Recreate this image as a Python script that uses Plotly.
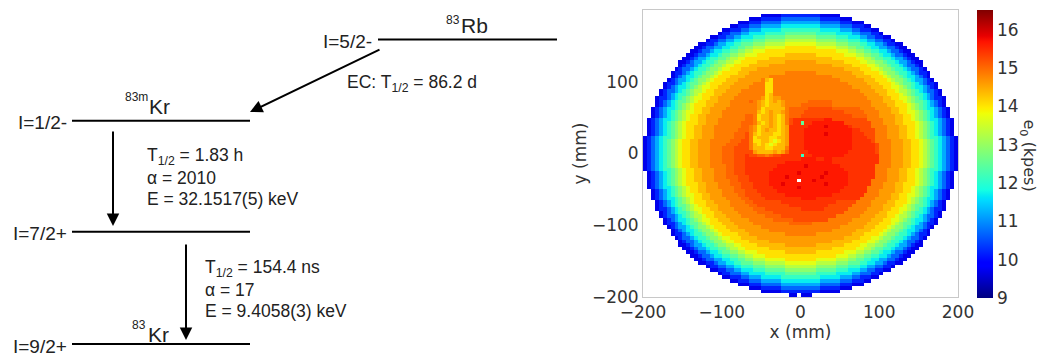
import numpy as np
import plotly.graph_objects as go

W, H = 1037, 360

# ---------------------------------------------------------------------------
# e0 map of the detector in 5 mm bins (80 x 80). Each row is run-length
# encoded as "<count><code>" tokens, read from left (x = -197.5 mm) to right
# (x = +197.5 mm). Rows run from y = +197.5 mm (top) to y = -197.5 mm.
# "." marks empty bins (outside the active area, or no data).
# ---------------------------------------------------------------------------
RIM_ROWS_TOP = [
    "80.",
    "30. 5a 5b 5b 5a 30.",
    "27. 3a 5b 5c 5c 5b 3a 27.",
    "24. 3a 3b 5c 5d 5d 5c 3b 3a 24.",
    "22. 2a 3b 3c 5d 5e 5e 5d 3c 3b 2a 22.",
    "20. 2a 3b 2c 3d 5e 5f 5f 5e 3d 2c 3b 2a 20.",
    "19. 1a 2b 3c 2d 4e 5f 4g 4g 5f 4e 2d 3c 2b 1a 19.",
    "17. 2a 2b 2c 2d 3e 3f 5g 4h 4h 5g 3f 3e 2d 2c 2b 2a 17.",
    "16. 1a 2b 2c 2d 2e 3f 3g 5h 4i 4i 5h 3g 3f 2e 2d 2c 2b 1a 16.",
    "14. 2a 2b 1c 2d 2e 2f 3g 3h 5i 4j 4j 5i 3h 3g 2f 2e 2d 1c 2b 2a 14.",
    "13. 2a 1b 2c 2d 2e 2f 2g 2h 3i 5j 4k 4k 5j 3i 2h 2g 2f 2e 2d 2c 1b 2a 13.",
    "12. 2a 1b 2c 1d 2e 2f 2g 2h 2i 3j 9k 9k 3j 2i 2h 2g 2f 2e 1d 2c 1b 2a 12.",
    "11. 2a 1b 2c 1d 2e 1f 2g 2h 2i 3j 7k 4l 4l 7k 3j 2i 2h 2g 1f 2e 1d 2c 1b 2a 11.",
    "10. 2a 1b 1c 2d 1e 2f 2g 1h 2i 2j 6k 8l 8l 6k 2j 2i 1h 2g 2f 1e 2d 1c 1b 2a 10.",
    "9. 2a 1b 1c 2d 1e 2f 1g 2h 2i 2j 4k 7l 4m 4m 7l 4k 2j 2i 2h 1g 2f 1e 2d 1c 1b 2a 9.",
    "9. 1a 1b 2c 1d 1e 2f 1g 2h 1i 2j 4k 5l 8m 8m 5l 4k 2j 1i 2h 1g 2f 1e 1d 2c 1b 1a 9.",
    "8. 1a 1b 2c 1d 1e 2f 1g 2h 1i 2j 3k 4l 11m 11m 4l 3k 2j 1i 2h 1g 2f 1e 1d 2c 1b 1a 8.",
    "7. 1a 2b 1c 1d 1e 2f 1g 2h 1i 1j 4k 3l 9m 4n 4n 9m 3l 4k 1j 1i 2h 1g 2f 1e 1d 1c 2b 1a 7.",
    "7. 1a 1b 1c 1d 2e 1f 1g 2h 1i 1j 3k 4l 6m 8n 8n 6m 4l 3k 1j 1i 2h 1g 1f 2e 1d 1c 1b 1a 7.",
    "6. 1a 1b 1c 2d 1e 1f 1g 2h 1i 1j 3k 3l 6m 1n 1l 1k 7n 10n 6m 3l 3k 1j 1i 2h 1g 1f 1e 2d 1c 1b 1a 6.",
]

CORE_ROWS_TOP = [
    "5. 1a 2b 1c 1d 1e 1f 2g 1h 1i 1j 3k 3l 5m 3n 2k 4n 6n 9n 5m 3l 3k 1j 1i 1h 2g 1f 1e 1d 1c 2b 1a 5.",
    "5. 1a 1b 1c 1d 2e 1f 1g 1h 1i 2j 2k 3l 5m 4n 2k 14n 6n 5m 3l 2k 2j 1i 1h 1g 1f 2e 1d 1c 1b 1a 5.",
    "4. 1a 1b 2c 1d 1e 1f 1g 1h 2i 1j 2k 3l 4m 6n 2k 16n 6n 4m 3l 2k 1j 2i 1h 1g 1f 1e 1d 2c 1b 1a 4.",
    "4. 1a 1b 1c 1d 1e 2f 1g 1h 1i 1j 3k 2l 4m 5n 2n 1k 1l 18n 5n 4m 2l 3k 1j 1i 1h 1g 2f 1e 1d 1c 1b 1a 4.",
    "3. 1a 2b 1c 1d 1e 1f 1g 1h 1i 2j 2k 2l 4m 5n 2n 1m 1k 1l 2m 1n 16n 5n 4m 2l 2k 2j 1i 1h 1g 1f 1e 1d 1c 2b 1a 3.",
    "3. 1a 1b 1c 1d 1e 1f 2g 1h 1i 1j 2k 3l 3m 5n 1o 1n 1m 1l 1k 1l 1m 1l 1m 1n 5n 6o 5n 5n 3m 3l 2k 1j 1i 1h 2g 1f 1e 1d 1c 1b 1a 3.",
    "3. 1a 1b 1c 1d 1e 1f 1g 1h 1i 1j 3k 2l 4m 4n 2n 1n 1m 1l 1k 1l 1l 1l 1m 1n 3n 8o 6n 4n 4m 2l 3k 1j 1i 1h 1g 1f 1e 1d 1c 1b 1a 3.",
    "2. 1a 1b 1c 1d 2e 1f 1g 1h 1i 1j 2k 2l 4m 4n 3n 1n 1m 1k 1l 1l 1l 1l 1l 1n 5o 6p 7o 4n 4m 2l 2k 1j 1i 1h 1g 1f 2e 1d 1c 1b 1a 2.",
    "2. 1a 1b 1c 1d 1e 1f 1g 1h 1i 2j 2k 2l 3m 4n 4n 1n 1l 1k 1l 1m 1l 1l 1m 1n 4o 10p 5o 4n 3m 2l 2k 2j 1i 1h 1g 1f 1e 1d 1c 1b 1a 2.",
    "2. 1a 1b 1c 1d 1e 1f 1g 1h 1i 1j 2k 2l 4m 3n 3n 2o 1n 1k 1l 1l 1m 1l 1k 1l 1n 3o 13p 4o 3n 4m 2l 2k 1j 1i 1h 1g 1f 1e 1d 1c 1b 1a 2.",
    "1. 1a 1b 1c 1d 2e 1f 1g 1h 1i 1j 2k 2l 3m 4n 3n 2o 1n 1k 1l 1l 1m 1l 1k 1l 1n 1p 8q 2r 9p 4n 3m 2l 2k 1j 1i 1h 1g 1f 2e 1d 1c 1b 1a 1.",
    "1. 1a 1b 1c 1d 1e 1f 1g 1h 1i 1j 3k 2l 3m 3n 3n 3o 1n 1l 1k 1l 1m 1l 1k 1l 1n 1p 2q 1g 2q 8r 7p 3n 3m 2l 3k 1j 1i 1h 1g 1f 1e 1d 1c 1b 1a 1.",
    "1. 1a 1b 1c 1d 1e 1f 1g 1h 1i 1j 2k 2l 3m 4n 3n 2o 1n 1m 1k 1l 1l 1m 1l 1k 1l 1m 5q 4r 1s 5r 1q 5p 4n 3m 2l 2k 1j 1i 1h 1g 1f 1e 1d 1c 1b 1a 1.",
    "1. 1a 1b 1c 1d 1e 1f 1g 1h 1i 1j 2k 2l 3m 3n 3n 3o 1n 1m 1k 1l 1m 1l 1l 1k 1l 1m 4q 12r 2q 4p 3n 3m 2l 2k 1j 1i 1h 1g 1f 1e 1d 1c 1b 1a 1.",
    "1. 1a 1b 1c 1d 1e 1f 1g 1h 1i 1j 2k 2l 3m 3n 2n 3o 1p 1n 1l 1k 1l 1l 1l 1k 1k 1l 1m 4q 5r 1s 6r 3q 3p 3n 3m 2l 2k 1j 1i 1h 1g 1f 1e 1d 1c 1b 1a 1.",
    "1a 1b 1c 1d 1e 2f 1g 1h 1i 1j 2k 2l 3m 3n 2n 3o 1p 1n 1k 1l 1l 1l 1k 1k 1l 1l 1m 4q 12r 4q 2p 3n 3m 2l 2k 1j 1i 1h 1g 2f 1e 1d 1c 1b 1a",
    "1a 1b 1c 1d 1e 1f 1g 1h 1i 1j 2k 2l 3m 4n 1n 3o 2p 1n 1k 1k 1l 1l 1k 1j 1k 1l 1m 4q 12r 5q 1p 4n 3m 2l 2k 1j 1i 1h 1g 1f 1e 1d 1c 1b 1a",
    "1a 1b 1c 1d 1e 1f 1g 1h 1i 1j 2k 2l 3m 3n 1n 3o 3p 1n 1l 1k 1l 1k 1j 1k 1l 1l 1m 4q 12r 6q 1p 3n 3m 2l 2k 1j 1i 1h 1g 1f 1e 1d 1c 1b 1a",
    "1a 1b 1c 1d 1e 1f 1g 1h 1i 1j 2k 2l 3m 3n 3o 4p 1n 1l 1l 1l 1k 1k 1l 1l 1l 1n 4q 12r 6q 1p 3n 3m 2l 2k 1j 1i 1h 1g 1f 1e 1d 1c 1b 1a",
    "1a 1b 1c 1d 1e 1f 1g 1h 1i 1j 2k 2l 3m 3n 3o 5p 1m 1l 1l 1l 1l 1m 1l 1m 1o 5q 10r 7q 1p 3n 3m 2l 2k 1j 1i 1h 1g 1f 1e 1d 1c 1b 1a",
]

CORE_ROWS_BOTTOM = [
    "1a 1b 1c 1d 1e 1f 1g 1h 1i 1j 2k 2l 3m 3n 3o 3p 1q 2p 2o 1n 1o 2p 5q 1f 2q 8r 9q 3n 3m 2l 2k 1j 1i 1h 1g 1f 1e 1d 1c 1b 1a",
    "1a 1b 1c 1d 1e 1f 1g 1h 1i 1j 2k 2l 3m 3n 3o 3p 14q 4r 2q 2r 12q 3n 3m 2l 2k 1j 1i 1h 1g 1f 1e 1d 1c 1b 1a",
    "1a 1b 1c 1d 1e 1f 1g 1h 1i 1j 2k 2l 3m 3n 3o 3p 10q 12r 12q 3n 3m 2l 2k 1j 1i 1h 1g 1f 1e 1d 1c 1b 1a",
    "1a 1b 1c 1d 1e 1f 1g 1h 1i 1j 2k 2l 3m 4n 2o 3p 8q 7r 1s 8r 9q 4n 3m 2l 2k 1j 1i 1h 1g 1f 1e 1d 1c 1b 1a",
    "1a 1b 1c 1d 1e 2f 1g 1h 1i 1j 2k 2l 3m 3n 2o 3p 7q 18r 8q 3n 3m 2l 2k 1j 1i 1h 1g 2f 1e 1d 1c 1b 1a",
    "1. 1a 1b 1c 1d 1e 1f 1g 1h 1i 1j 2k 2l 3m 3n 2o 3p 6q 7r 1s 6r 1s 5r 7q 3n 3m 2l 2k 1j 1i 1h 1g 1f 1e 1d 1c 1b 1a 1.",
    "1. 1a 1b 1c 1d 1e 1f 1g 1h 1i 1j 2k 2l 3m 3n 3o 3p 5q 4r 1s 8r 1s 6r 7q 3n 3m 2l 2k 1j 1i 1h 1g 1f 1e 1d 1c 1b 1a 1.",
    "1. 1a 1b 1c 1d 1e 1f 1g 1h 1i 1j 2k 2l 3m 4n 2o 3p 5q 7r 1. 3r 1s 8r 6q 4n 3m 2l 2k 1j 1i 1h 1g 1f 1e 1d 1c 1b 1a 1.",
    "1. 1a 1b 1c 1d 1e 1f 1g 1h 1i 1j 3k 2l 3m 3n 3o 3p 4q 3r 1s 10r 1s 5r 6q 3n 3m 2l 3k 1j 1i 1h 1g 1f 1e 1d 1c 1b 1a 1.",
    "1. 1a 1b 1c 1d 2e 1f 1g 1h 1i 1j 2k 2l 3m 4n 2o 3p 5q 6r 1s 11r 6q 4n 3m 2l 2k 1j 1i 1h 1g 1f 2e 1d 1c 1b 1a 1.",
    "2. 1a 1b 1c 1d 1e 1f 1g 1h 1i 1j 2k 2l 4m 3n 3o 3p 5q 16r 7q 3n 4m 2l 2k 1j 1i 1h 1g 1f 1e 1d 1c 1b 1a 2.",
    "2. 1a 1b 1c 1d 1e 1f 1g 1h 1i 2j 2k 2l 3m 4n 2o 4p 6q 12r 8q 4n 3m 2l 2k 2j 1i 1h 1g 1f 1e 1d 1c 1b 1a 2.",
    "2. 1a 1b 1c 1d 2e 1f 1g 1h 1i 1j 2k 2l 4m 4n 2o 4p 9q 4r 11q 4n 4m 2l 2k 1j 1i 1h 1g 1f 2e 1d 1c 1b 1a 2.",
    "3. 1a 1b 1c 1d 1e 1f 1g 1h 1i 1j 3k 2l 4m 4n 2o 7p 14q 5p 4n 4m 2l 3k 1j 1i 1h 1g 1f 1e 1d 1c 1b 1a 3.",
    "3. 1a 1b 1c 1d 1e 1f 2g 1h 1i 1j 2k 3l 3m 5n 2o 8p 10q 6p 5n 3m 3l 2k 1j 1i 1h 2g 1f 1e 1d 1c 1b 1a 3.",
    "3. 1a 2b 1c 1d 1e 1f 1g 1h 1i 2j 2k 2l 4m 5n 3o 9p 6q 6p 5n 4m 2l 2k 2j 1i 1h 1g 1f 1e 1d 1c 2b 1a 3.",
    "4. 1a 1b 1c 1d 1e 2f 1g 1h 1i 1j 3k 2l 4m 5n 4o 18p 5n 4m 2l 3k 1j 1i 1h 1g 2f 1e 1d 1c 1b 1a 4.",
    "4. 1a 1b 2c 1d 1e 1f 1g 1h 2i 1j 2k 3l 4m 6n 4o 14p 6n 4m 3l 2k 1j 2i 1h 1g 1f 1e 1d 2c 1b 1a 4.",
    "5. 1a 1b 1c 1d 2e 1f 1g 1h 1i 2j 2k 3l 5m 6n 5o 9p 6n 5m 3l 2k 2j 1i 1h 1g 1f 2e 1d 1c 1b 1a 5.",
    "5. 1a 2b 1c 1d 1e 1f 2g 1h 1i 1j 3k 3l 5m 9n 6o 9n 5m 3l 3k 1j 1i 1h 2g 1f 1e 1d 1c 2b 1a 5.",
]

RIM_ROWS_BOTTOM = [
    "6. 1a 1b 1c 2d 1e 1f 1g 2h 1i 1j 3k 3l 6m 10n 10n 6m 3l 3k 1j 1i 2h 1g 1f 1e 2d 1c 1b 1a 6.",
    "7. 1a 1b 1c 1d 2e 1f 1g 2h 1i 1j 3k 4l 6m 8n 8n 6m 4l 3k 1j 1i 2h 1g 1f 2e 1d 1c 1b 1a 7.",
    "7. 1a 2b 1c 1d 1e 2f 1g 2h 1i 1j 4k 3l 9m 4n 4n 9m 3l 4k 1j 1i 2h 1g 2f 1e 1d 1c 2b 1a 7.",
    "8. 1a 1b 2c 1d 1e 2f 1g 2h 1i 2j 3k 4l 11m 11m 4l 3k 2j 1i 2h 1g 2f 1e 1d 2c 1b 1a 8.",
    "9. 1a 1b 2c 1d 1e 2f 1g 2h 1i 2j 4k 5l 8m 8m 5l 4k 2j 1i 2h 1g 2f 1e 1d 2c 1b 1a 9.",
    "9. 2a 1b 1c 2d 1e 2f 1g 2h 2i 2j 4k 7l 4m 4m 7l 4k 2j 2i 2h 1g 2f 1e 2d 1c 1b 2a 9.",
    "10. 2a 1b 1c 2d 1e 2f 2g 1h 2i 2j 6k 8l 8l 6k 2j 2i 1h 2g 2f 1e 2d 1c 1b 2a 10.",
    "11. 2a 1b 2c 1d 2e 1f 2g 2h 2i 3j 7k 4l 4l 7k 3j 2i 2h 2g 1f 2e 1d 2c 1b 2a 11.",
    "12. 2a 1b 2c 1d 2e 2f 2g 2h 2i 3j 9k 9k 3j 2i 2h 2g 2f 2e 1d 2c 1b 2a 12.",
    "13. 2a 1b 2c 2d 2e 2f 2g 2h 3i 5j 4k 4k 5j 3i 2h 2g 2f 2e 2d 2c 1b 2a 13.",
    "14. 2a 2b 1c 2d 2e 2f 3g 3h 5i 4j 4j 5i 3h 3g 2f 2e 2d 1c 2b 2a 14.",
    "16. 1a 2b 2c 2d 2e 3f 3g 5h 4i 4i 5h 3g 3f 2e 2d 2c 2b 1a 16.",
    "17. 2a 2b 2c 2d 3e 3f 5g 4h 4h 5g 3f 3e 2d 2c 2b 2a 17.",
    "19. 1a 2b 3c 2d 4e 5f 4g 4g 5f 4e 2d 3c 2b 1a 19.",
    "20. 2a 3b 2c 3d 5e 5f 5f 5e 3d 2c 3b 2a 20.",
    "22. 2a 3b 3c 5d 5e 5e 5d 3c 3b 2a 22.",
    "24. 3a 3b 5c 5d 5d 5c 3b 3a 24.",
    "27. 3a 5b 5c 5c 5b 3a 27.",
    "30. 5a 5b 5b 5a 30.",
    "37. 2a 1. 3a 37.",
]

# level code -> e0 (kpes)
E0_LEVELS = {
    "a": 9.7, "b": 10.2, "c": 10.7, "d": 11.2, "e": 11.7, "f": 12.1,
    "g": 12.5, "h": 12.9, "i": 13.3, "j": 13.7, "k": 14.05, "l": 14.35,
    "m": 14.6, "n": 14.85, "o": 15.05, "p": 15.25, "q": 15.45, "r": 15.65,
    "s": 15.85,
}

N_BINS = 80
BIN_X = [-197.5 + 5 * i for i in range(N_BINS)]   # bin centres (mm)
BIN_Y = [197.5 - 5 * i for i in range(N_BINS)]

AXIS_TICKS = [-200, -100, 0, 100, 200]
CBAR_TICKS = [9, 10, 11, 12, 13, 14, 15, 16]
E0_MIN, E0_MAX = 9.0, 16.52


def decode_row(encoded):
    cells = []
    for token in encoded.split():
        count, code = int(token[:-1]), token[-1]
        value = None if code == "." else E0_LEVELS[code]
        cells.extend([value] * count)
    if len(cells) != N_BINS:
        raise ValueError("row decodes to %d bins: %s" % (len(cells), encoded))
    return cells


ALL_ROWS = RIM_ROWS_TOP + CORE_ROWS_TOP + CORE_ROWS_BOTTOM + RIM_ROWS_BOTTOM
z = [decode_row(r) for r in ALL_ROWS]


def jet_scale():
    """matplotlib-style jet colour map as a plotly colorscale."""
    stops = [0, 0.11, 0.125, 0.34, 0.35, 0.375, 0.64, 0.65, 0.66, 0.89, 0.91, 1.0]
    r = np.interp(stops, [0, 0.35, 0.66, 0.89, 1], [0, 0, 1, 1, 0.5])
    g = np.interp(stops, [0, 0.125, 0.375, 0.64, 0.91, 1], [0, 0, 1, 1, 0, 0])
    b = np.interp(stops, [0, 0.11, 0.34, 0.65, 1], [0.5, 1, 1, 0, 0])
    return [[s, "rgb(%d,%d,%d)" % (round(255 * rr), round(255 * gg), round(255 * bb))]
            for s, rr, gg, bb in zip(stops, r, g, b)]


def px(x):
    return x / W


def py(y):
    return 1 - y / H


MPL_FONT = "DejaVu Sans"
DIA_FONT = "Liberation Sans, Arial, sans-serif"
AX_COLOR = "#333333"
TXT_COLOR = "#222222"

fig = go.Figure()
fig.add_trace(go.Heatmap(
    x=BIN_X, y=BIN_Y, z=z, coloraxis="coloraxis", hoverongaps=False,
))

axis_common = dict(
    range=[-200, 200], tickvals=AXIS_TICKS, showgrid=False, zeroline=False,
    showline=True, mirror=True, linecolor="#c8c8c8", linewidth=1, ticks="",
    automargin=False,
    tickfont=dict(family=MPL_FONT, size=17, color=AX_COLOR),
)

fig.update_layout(
    width=W, height=H,
    margin=dict(l=0, r=0, t=0, b=0, pad=0, autoexpand=False),
    paper_bgcolor="white", plot_bgcolor="white",
    showlegend=False,
    xaxis=dict(domain=[px(643), px(958)],
               title=dict(text="x (mm)", standoff=2,
                          font=dict(family=MPL_FONT, size=17, color=AX_COLOR)),
               **axis_common),
    yaxis=dict(domain=[py(297), py(10)],
               title=dict(text="y (mm)", standoff=0,
                          font=dict(family=MPL_FONT, size=17, color=AX_COLOR)),
               **axis_common),
    coloraxis=dict(
        colorscale=jet_scale(), cmin=E0_MIN, cmax=E0_MAX,
        colorbar=dict(
            x=px(977), xanchor="left", xpad=0,
            y=py(10), yanchor="top", ypad=0,
            thickness=16, thicknessmode="pixels",
            len=288, lenmode="pixels",
            outlinewidth=0, tickvals=CBAR_TICKS, ticks="",
            tickfont=dict(family=MPL_FONT, size=17, color=AX_COLOR),
        ),
    ),
)

# colour bar label
fig.add_annotation(
    x=1.0, y=py(155), xref="paper", yref="paper",
    xanchor="right", yanchor="middle", xshift=3,
    text="e<sub>0</sub> (kpes)", textangle=90, showarrow=False, borderpad=0,
    font=dict(family=MPL_FONT, size=16, color=AX_COLOR),
)

# ---------------------------------------------------------------------------
# 83Rb -> 83mKr -> 83Kr decay scheme
# ---------------------------------------------------------------------------
LEVEL_LINES = [  # (x0, x1, y) in px
    (378, 557, 39.5),
    (72, 250, 120.7),
    (72, 250, 231.7),
    (72, 250, 344.0),
]
for x0, x1, y in LEVEL_LINES:
    fig.add_shape(type="line", xref="paper", yref="paper",
                  x0=px(x0), x1=px(x1), y0=py(y), y1=py(y),
                  line=dict(color="black", width=2))

ARROWS = [  # (tail_x, tail_y, tip_x, tip_y) in px
    (381, 49, 250, 112),
    (113, 130, 113, 226),
    (186, 243, 186, 340),
]
for tx, ty, hx, hy in ARROWS:
    fig.add_annotation(
        x=px(hx), y=py(hy), xref="paper", yref="paper",
        ax=tx - hx, ay=ty - hy, axref="pixel", ayref="pixel",
        text="", showarrow=True, arrowhead=2, arrowsize=1.25,
        arrowwidth=2, arrowcolor="black", standoff=0,
    )

LABELS = [  # (x, y, text, anchor, size)
    (445, 20, "83", "left", 12),
    (460, 26, "Rb", "left", 21),
    (373, 41, "I=5/2-", "right", 19),
    (346, 83, "EC: T<sub>1/2</sub> = 86.2 d", "left", 17.5),
    (124, 97, "83m", "left", 12),
    (148, 106, "Kr", "left", 21),
    (68, 122, "I=1/2-", "right", 19),
    (146, 156.5, "T<sub>1/2</sub> = 1.83 h", "left", 17.5),
    (146, 178, "α = 2010", "left", 17.5),
    (146, 198.5, "E = 32.1517(5) keV", "left", 17.5),
    (68, 233, "I=7/2+", "right", 19),
    (204, 268.5, "T<sub>1/2</sub> = 154.4 ns", "left", 17.5),
    (204, 290, "α = 17", "left", 17.5),
    (204, 310.5, "E = 9.4058(3) keV", "left", 17.5),
    (131, 325, "83", "left", 12),
    (147, 334, "Kr", "left", 21),
    (68, 346, "I=9/2+", "right", 19),
]
for x, y, text, anchor, size in LABELS:
    fig.add_annotation(
        x=px(x), y=py(y), xref="paper", yref="paper",
        text=text, showarrow=False, xanchor=anchor, yanchor="middle",
        borderpad=0,
        font=dict(family=DIA_FONT, size=size, color=TXT_COLOR),
    )

fig.write_html("out.html")
